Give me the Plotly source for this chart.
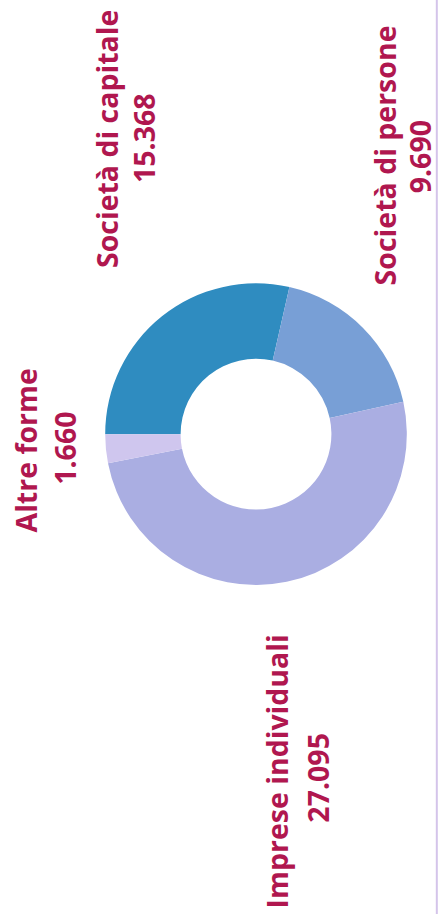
import plotly.graph_objects as go

categories = ["Società di capitale", "Società di persone", "Imprese individuali", "Altre forme"]
values = [15368, 9690, 27095, 1660]
colors = ["#2f8cc0", "#789fd6", "#aaaee2", "#cfc6ee"]

# label placement (paper coords) for the name line and the value line
name_pos = [(0.244, 0.848), (0.877, 0.830), (0.631, 0.156), (0.059, 0.507)]
value_pos = [(0.328, 0.849), (0.957, 0.828), (0.724, 0.149), (0.148, 0.510)]

W, H = 439, 914
text_color = "#b0174f"
font_family = "Open Sans"

fig = go.Figure()
fig.add_trace(go.Pie(
    labels=categories,
    values=values,
    hole=0.5,
    sort=False,
    direction="clockwise",
    rotation=270,
    marker=dict(colors=colors, line=dict(width=0)),
    textinfo="none",
    hoverinfo="label+value",
    showlegend=False,
    domain=dict(x=[0.2392, 0.9271], y=[0.360, 0.690]),
))

def fmt(v):
    return f"{v:,}".replace(",", ".")

annotations = []
for cat, val, (nx, ny), (vx, vy) in zip(categories, values, name_pos, value_pos):
    for txt, x, y in ((cat, nx, ny), (fmt(val), vx, vy)):
        annotations.append(dict(
            text=txt, x=x, y=y, xref="paper", yref="paper",
            xanchor="center", yanchor="middle", showarrow=False, textangle=-90,
            font=dict(family=font_family, size=28.5, color=text_color, weight=700),
        ))

fig.update_layout(
    width=W, height=H,
    margin=dict(l=0, r=0, t=0, b=0),
    paper_bgcolor="white",
    plot_bgcolor="white",
    annotations=annotations,
    shapes=[dict(type="line", xref="paper", yref="paper", x0=0.995, x1=0.995, y0=0, y1=1,
                 line=dict(color="#d4c4ea", width=2))],
)

fig.write_html("out.html", config={"displayModeBar": False},
               post_script="document.body.style.margin='0';document.body.style.overflow='hidden';")
